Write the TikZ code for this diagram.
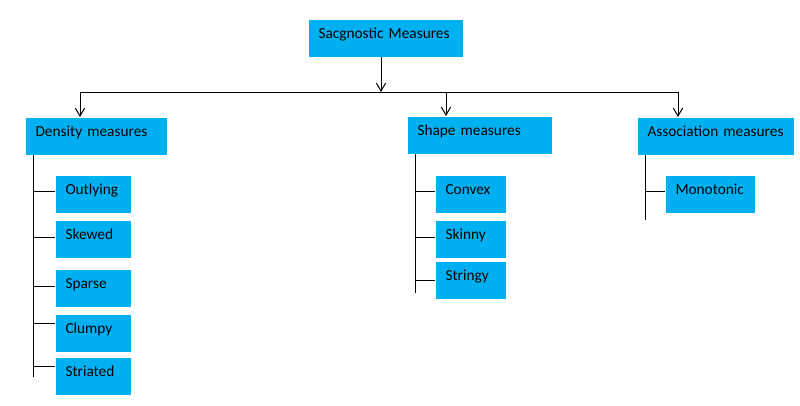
\documentclass[tikz,border=0pt]{standalone}
\usepackage{fontspec}
\setmainfont{Carlito}
\usetikzlibrary{arrows.meta}
\definecolor{boxblue}{HTML}{00B0F0}

\begin{document}
\begin{tikzpicture}[x = 0.75pt, y = -0.75pt, line width = 0.75pt,
        box/.style = {fill = boxblue, anchor = north west, inner xsep = 7.5pt, inner ysep = 0pt,
            minimum height = 27.75pt, text width = #1, align = left,
            text height = 8pt, text depth = 7.25pt, font = \fontsize{11.5}{13}\selectfont},
        link/.style = {-{Straight Barb[length = 6pt, width = 7pt]}}]
        \useasboundingbox (0, 0) rectangle (800, 405);

        % Nodes
        \node [box = 100.5pt] (sag) at (308, 19) {Sacgnostic Measures};
        \node [box = 90.75pt] (density) at (25, 117) {Density measures};
        \node [box = 93pt] (shape) at (407, 116) {Shape measures};
        \node [box = 102pt] (assoc) at (637, 117) {Association measures};

        \node [box = 41.25pt] (outlying) at (55, 175) {Outlying};
        \node [box = 41.25pt] (skewed) at (55, 220) {Skewed};
        \node [box = 41.25pt] (sparse) at (55, 269) {Sparse};
        \node [box = 41.25pt] (clumpy) at (55, 314) {Clumpy};
        \node [box = 41.25pt] (striated) at (55, 357) {Striated};

        \node [box = 37.5pt] (convex) at (435, 175) {Convex};
        \node [box = 37.5pt] (skinny) at (435, 220) {Skinny};
        \node [box = 37.5pt] (stringy) at (435, 261) {Stringy};

        \node [box = 51.75pt] (monotonic) at (665, 175) {Monotonic};

        % Bus
        \coordinate (hub) at (381, 92);
        \coordinate (busL) at (80, 92);
        \coordinate (busM) at (446, 92);
        \coordinate (busR) at (678, 92);
        \draw (busL) -- (busR);
        \draw [link] (sag.south -| hub) -- (hub);
        \draw [link] (busL) -- (busL |- density.north);
        \draw [link] (busM) -- (busM |- shape.north);
        \draw [link] (busR) -- (busR |- assoc.north);

        % Trunks
        \coordinate (densityEnd) at (33, 377);
        \coordinate (shapeEnd) at (415, 293);
        \coordinate (assocEnd) at (645, 220);
        \draw (density.south -| densityEnd) -- (densityEnd);
        \draw (shape.south -| shapeEnd) -- (shapeEnd);
        \draw (assoc.south -| assocEnd) -- (assocEnd);

        % Ticks
        \foreach \child/\dy in {outlying/1.8, skewed/0.8, sparse/1, clumpy/7.5, striated/6.8}
            \draw ([yshift = \dy pt]\child.west) -- ([yshift = \dy pt]\child.west -| densityEnd);
        \foreach \child/\dy in {convex/1.8, skinny/0.8, stringy/0}
            \draw ([yshift = \dy pt]\child.west) -- ([yshift = \dy pt]\child.west -| shapeEnd);
        \draw ([yshift = 1.8pt]monotonic.west) -- ([yshift = 1.8pt]monotonic.west -| assocEnd);

    \end{tikzpicture}
\end{document}
